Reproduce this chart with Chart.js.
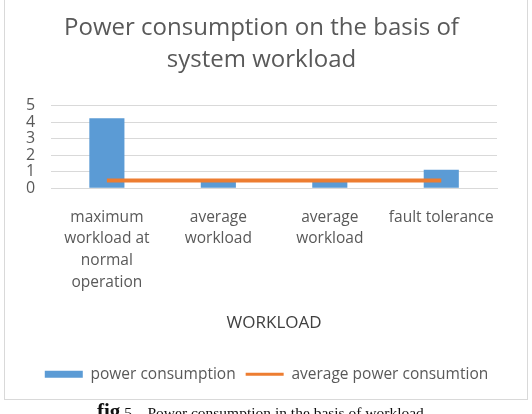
<!DOCTYPE html>
<html>
<head>
<meta charset="utf-8">
<script src="https://cdn.jsdelivr.net/npm/chart.js@4.4.1/dist/chart.umd.min.js"></script>
<style>
  html, body { margin: 0; padding: 0; background: #fff; overflow: hidden; }
  #wrap { position: relative; width: 532px; height: 414px; }
  #myChart { position: absolute; left: 0; top: 0; }
  #frame { position: absolute; left: 4px; top: -1px; width: 522px; height: 399px; border: 1px solid #d9d9d9; pointer-events: none; }
  #caption { position: absolute; left: 97px; top: 399px; font-family: "Liberation Serif", serif; font-size: 15.5px; color: #111; white-space: nowrap; }
  #caption b { font-size: 21px; }
</style>
</head>
<body>
<div id="wrap">
  <canvas id="myChart" width="532" height="400"></canvas>
  <div id="frame"></div>
  <div id="caption"><b>fig</b> 5 &nbsp;&nbsp; Power consumption in the basis of workload</div>
</div>
<script>
const ctx = document.getElementById('myChart');

const labels = [
  ['maximum', 'workload at', 'normal', 'operation'],
  ['average', 'workload'],
  ['average', 'workload'],
  'fault tolerance'
];
const powerConsumption = [4.25, 0.45, 0.45, 1.12];
const averagePower = [0.47, 0.47, 0.47, 0.47];
const yTicks = [0, 1, 2, 3, 4, 5];

const grey = '#595959';
const font = 'Open Sans';

// title and legend in the original are centred on the page, not on the padded box
const recentre = {
  id: 'recentre',
  afterLayout(chart) {
    if (chart.titleBlock) chart.titleBlock.left += 16;
    if (chart.legend) {
      chart.legend.left += 13;
      chart.legend.right += 13;
    }
  }
};

new Chart(ctx, {
    type: 'bar',
    data: {
        labels: labels,
        datasets: [{
            type: 'line',
            label: 'average power consumtion',
            data: averagePower,
            borderColor: '#ED7D31',
            backgroundColor: '#ED7D31',
            borderWidth: 4,
            pointRadius: 0,
            fill: false,
            order: 0
          },
          {
            type: 'bar',
            label: 'power consumption',
            data: powerConsumption,
            backgroundColor: '#5B9BD5',
            categoryPercentage: 1,
            barPercentage: 0.315,
            order: 1
          }
        ]
    },
    plugins: [recentre],

    options: {
      responsive: false,
      animation: false,
      layout: { padding: { left: 10, right: 35, top: 0, bottom: 8 } },
      plugins: {
        title: {
          display: true,
          text: ['Power consumption on the basis of', 'system workload'],
          color: grey,
          font: { family: font, size: 24, weight: 'normal', lineHeight: 1.35 },
          padding: { top: 12, bottom: 29 }
        },
        legend: {
          position: 'bottom',
          reverse: true,
          labels: {
            color: grey,
            font: { family: font, size: 15.5 },
            usePointStyle: true,
            boxHeight: 7,
            pointStyleWidth: 38,
            padding: 10,
            generateLabels: function (chart) {
              const items = Chart.defaults.plugins.legend.labels.generateLabels(chart);
              items.forEach(function (it) {
                if (it.datasetIndex === 0) {
                  it.pointStyle = 'line';
                  it.strokeStyle = '#ED7D31';
                  it.lineWidth = 3;
                } else {
                  it.pointStyle = 'rect';
                  it.lineWidth = 0;
                  it.strokeStyle = '#5B9BD5';
                }
              });
              return items;
            }
          }
        },
        tooltip: { enabled: false }
      },
      scales: {
        x: {
          grid: { display: false, drawTicks: false },
          border: { display: true, color: '#d9d9d9' },
          ticks: {
            color: grey,
            font: { family: font, size: 15.5, lineHeight: 1.4 },
            padding: 18,
            maxRotation: 0,
            autoSkip: false
          },
          title: {
            display: true,
            text: 'WORKLOAD',
            color: '#404040',
            font: { family: font, size: 17 },
            padding: { top: 2, bottom: 23 }
          }
        },
        y: {
          min: 0,
          max: 5,
          afterBuildTicks: function (axis) {
            axis.ticks = yTicks.map(function (v) { return { value: v }; });
          },
          grid: { color: '#d9d9d9', drawTicks: false },
          border: { display: false },
          ticks: {
            color: grey,
            font: { family: font, size: 16, lineHeight: 1 },
            padding: 16,
            autoSkip: false
          }
        }
      }
    }
  });
</script>
</body>
</html>
